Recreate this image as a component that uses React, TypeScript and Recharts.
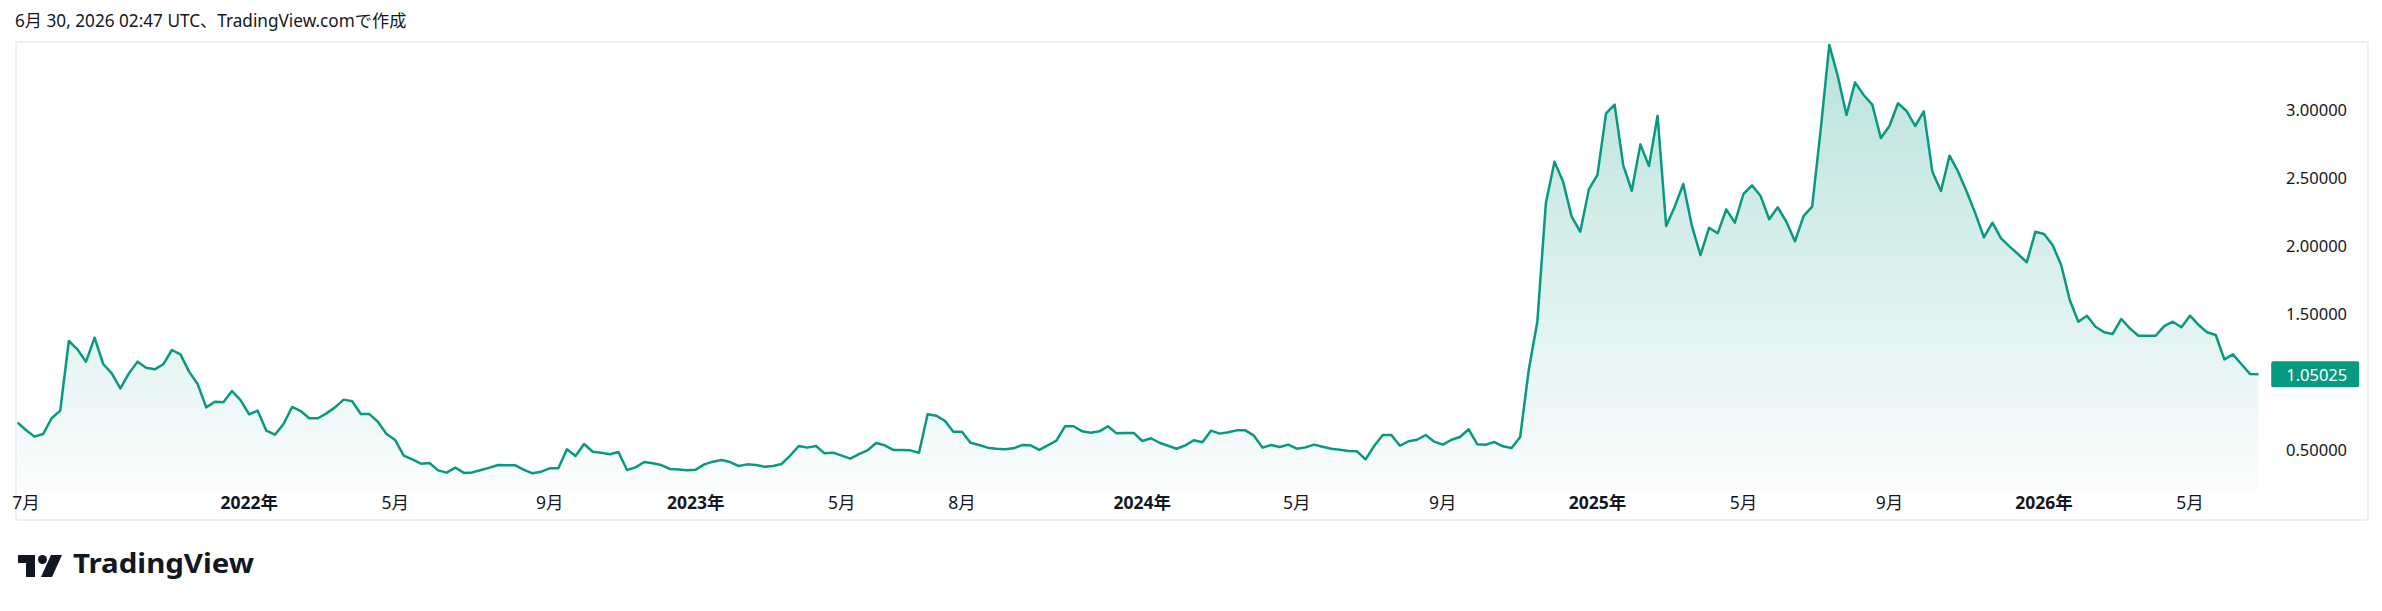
import React from "react";
import { AreaChart, Area, XAxis, YAxis, ReferenceDot } from "recharts";

// ---- data ----
const START_DATE = "2021-06-28"; // first weekly bar (Monday)

const weeklyClose: number[] = [
  0.696, 0.640, 0.591, 0.610, 0.726, 0.782, 1.294, 1.233, 1.142, 1.319,
  1.125, 1.056, 0.946, 1.056, 1.142, 1.098, 1.086, 1.123, 1.228, 1.196,
  1.069, 0.978, 0.806, 0.848, 0.843, 0.926, 0.860, 0.755, 0.782, 0.635,
  0.605, 0.684, 0.809, 0.779, 0.726, 0.726, 0.762, 0.806, 0.863, 0.851,
  0.757, 0.757, 0.699, 0.610, 0.566, 0.451, 0.424, 0.392, 0.397, 0.343,
  0.326, 0.363, 0.324, 0.328, 0.346, 0.363, 0.382, 0.380, 0.380, 0.346,
  0.321, 0.333, 0.358, 0.358, 0.498, 0.449, 0.537, 0.480, 0.473, 0.461,
  0.478, 0.346, 0.365, 0.404, 0.395, 0.382, 0.353, 0.350, 0.343, 0.348,
  0.387, 0.407, 0.419, 0.404, 0.375, 0.387, 0.382, 0.370, 0.375, 0.390,
  0.451, 0.522, 0.510, 0.522, 0.468, 0.473, 0.451, 0.429, 0.463, 0.490,
  0.544, 0.527, 0.493, 0.493, 0.490, 0.473, 0.755, 0.745, 0.708, 0.627,
  0.627, 0.546, 0.529, 0.510, 0.502, 0.498, 0.505, 0.529, 0.527, 0.493,
  0.527, 0.561, 0.667, 0.667, 0.630, 0.620, 0.630, 0.667, 0.615, 0.618,
  0.618, 0.559, 0.579, 0.546, 0.524, 0.502, 0.527, 0.564, 0.549, 0.635,
  0.613, 0.623, 0.637, 0.637, 0.598, 0.510, 0.529, 0.515, 0.532, 0.502,
  0.512, 0.532, 0.517, 0.502, 0.495, 0.485, 0.483, 0.424, 0.522, 0.603,
  0.603, 0.524, 0.557, 0.568, 0.603, 0.554, 0.532, 0.568, 0.588, 0.645,
  0.535, 0.532, 0.551, 0.520, 0.507, 0.588,
  1.081, 1.436,
  2.311, 2.613, 2.466, 2.208, 2.098, 2.409, 2.515, 2.968, 3.032, 2.588,
  2.399, 2.740, 2.581, 2.951, 2.140, 2.282, 2.449, 2.140, 1.926, 2.127,
  2.086, 2.262, 2.164, 2.375, 2.439, 2.360, 2.189, 2.277, 2.171, 2.027,
  2.213, 2.282, 2.850, 3.471, 3.238, 2.956, 3.196, 3.103, 3.032, 2.787,
  2.875, 3.042, 2.985, 2.875, 2.983, 2.539, 2.397, 2.657, 2.539, 2.392,
  2.233, 2.057, 2.164, 2.049, 1.988, 1.932, 1.873, 2.098, 2.081, 2.000,
  1.853, 1.596, 1.436, 1.480, 1.399, 1.358, 1.346, 1.456, 1.387, 1.333,
  1.333, 1.333, 1.404, 1.436, 1.395, 1.480, 1.412, 1.358, 1.338, 1.159,
  1.196, 1.123, 1.051, 1.05025,
];

const xTickDates = [
  "2021-07-05", "2022-01-03", "2022-05-02", "2022-09-05", "2023-01-02",
  "2023-05-01", "2023-08-07", "2024-01-01", "2024-05-06", "2024-09-02",
  "2025-01-06", "2025-05-05", "2025-09-01", "2026-01-05", "2026-05-04",
];
const xTickLabels = [
  "7月", "2022年", "5月", "9月", "2023年",
  "5月", "8月", "2024年", "5月", "9月",
  "2025年", "5月", "9月", "2026年", "5月",
];
const yTicks = [0.5, 1.5, 2.0, 2.5, 3.0];
const lastPrice = 1.05025;
const headerText = "6月 30, 2026 02:47 UTC、TradingView.comで作成";
const brandText = "TradingView";

// ---- derived ----
const WEEK_MS = 7 * 86400000;
const startMs = Date.parse(START_DATE + "T00:00:00Z");
const data = weeklyClose.map((v, i) => ({ i, v }));
const tickIdx = xTickDates.map((d) =>
  Math.round((Date.parse(d + "T00:00:00Z") - startMs) / WEEK_MS)
);
const labelByIdx = new Map<number, string>(
  tickIdx.map((t, k) => [t, xTickLabels[k]] as [number, string])
);

const GREEN = "#089981";
const TEXT = "#131722";
const FONT = "'Noto Sans', 'Noto Sans CJK JP', sans-serif";

const XTick = (props: any) => {
  const { x, payload } = props;
  const label = labelByIdx.get(payload.value) ?? "";
  const isYear = label.includes("年");
  return (
    <text
      x={x}
      y={502}
      textAnchor="middle"
      dominantBaseline="central"
      fontSize={17.5}
      fontFamily={FONT}
      fontWeight={isYear ? 700 : 400}
      fill={TEXT}
    >
      {label}
    </text>
  );
};

const YTick = (props: any) => {
  const { y, payload } = props;
  return (
    <text
      x={2286}
      y={y}
      textAnchor="start"
      dominantBaseline="central"
      fontSize={16.5}
      fontFamily={FONT}
      fill={TEXT}
    >
      {Number(payload.value).toFixed(5)}
    </text>
  );
};

const PriceTag = (props: any) => {
  const { cx, cy } = props;
  if (cx == null || cy == null) return <g />;
  const left = cx + 12.5;
  return (
    <g>
      <rect x={left} y={cy - 13} width={88} height={26} rx={2} fill={GREEN} />
      <text
        x={left + 15}
        y={cy}
        dominantBaseline="central"
        fontSize={16.5}
        fontFamily={FONT}
        fill="#ffffff"
      >
        {lastPrice.toFixed(5)}
      </text>
    </g>
  );
};

export default function App() {
  return (
    <div
      style={{
        position: "absolute",
        left: 0,
        top: 0,
        width: 2382,
        height: 611,
        background: "#ffffff",
        overflow: "hidden",
      }}
    >
      <div
        style={{
          position: "absolute",
          left: 15,
          top: 9,
          fontFamily: FONT,
          fontSize: 17.2,
          color: TEXT,
          whiteSpace: "nowrap",
          lineHeight: "24px",
        }}
      >
        {headerText}
      </div>
      <div
        style={{
          position: "absolute",
          left: 15,
          top: 41,
          width: 2350,
          height: 476,
          border: "2px solid #eef0f4",
          borderRadius: 2,
        }}
      />
      <div style={{ position: "absolute", left: 0, top: 0 }}>
        <AreaChart
          width={2382}
          height={611}
          data={data}
          margin={{ top: 41, right: 23.3, bottom: 91.2, left: 17.3 }}
        >
          <defs>
            <linearGradient id="areaFill" x1="0" y1="0" x2="0" y2="1">
              <stop offset="0%" stopColor={GREEN} stopOpacity={0.28} />
              <stop offset="100%" stopColor={GREEN} stopOpacity={0.02} />
            </linearGradient>
          </defs>
          <XAxis
            dataKey="i"
            type="number"
            domain={[0, weeklyClose.length - 1]}
            ticks={tickIdx}
            interval={0}
            tick={<XTick />}
            axisLine={false}
            tickLine={false}
            height={30}
            allowDataOverflow
          />
          <YAxis
            orientation="right"
            domain={[0.2, 3.5]}
            ticks={yTicks}
            interval={0}
            tick={<YTick />}
            axisLine={false}
            tickLine={false}
            width={100}
            allowDataOverflow
          />
          <Area
            type="linear"
            dataKey="v"
            stroke={GREEN}
            strokeWidth={2.5}
            fill="url(#areaFill)"
            fillOpacity={1}
            dot={false}
            activeDot={false}
            isAnimationActive={false}
            strokeLinejoin="round"
          />
          <ReferenceDot
            x={weeklyClose.length - 1}
            y={lastPrice}
            r={0}
            shape={<PriceTag />}
            ifOverflow="visible"
          />
        </AreaChart>
      </div>
      <svg
        style={{ position: "absolute", left: 0, top: 540 }}
        width={300}
        height={50}
      >
        <g transform="translate(18,15)">
          <rect x={0} y={0} width={16} height={8} fill={TEXT} />
          <rect x={8} y={0} width={9} height={22} fill={TEXT} />
          <circle cx={24.5} cy={4.5} r={4.5} fill={TEXT} />
          <polygon points="33,0 44,0 34,22 23,22" fill={TEXT} />
        </g>
        <text
          x={73}
          y={33}
          fontFamily={FONT}
          fontWeight={700}
          fontSize={26}
          fill={TEXT}
          textLength={181}
          lengthAdjust="spacingAndGlyphs"
        >
          {brandText}
        </text>
      </svg>
    </div>
  );
}
